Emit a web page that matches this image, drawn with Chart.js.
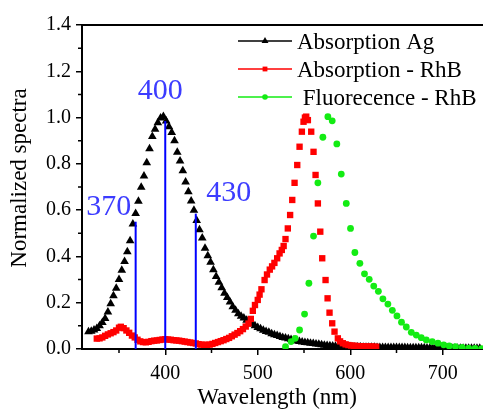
<!DOCTYPE html>
<html>
<head>
<meta charset="utf-8">
<script src="https://cdn.jsdelivr.net/npm/chart.js@4/dist/chart.umd.min.js"></script>
<style>
  html, body { margin: 0; padding: 0; background: #fff; overflow: hidden; width: 483px; height: 410px; }
  canvas { display: block; }
</style>
</head>
<body>
<canvas id="c" width="494" height="410"></canvas>
<script>
// ---------- DATA (wavelength nm, normalized value) ----------
const absAg = [
  [317,.075],[320,.077],[323,.082],[326,.089],[329,.100],[332,.115],[335,.132],[338,.160],[341,.195],[344,.230],
  [347,.263],[350,.300],[353,.340],[356,.378],[359,.420],[362,.468],[365,.540],[368,.585],[371,.638],[374,.699],
  [377,.748],[380,.805],[383,.865],[386,.918],[389,.950],[392,.978],[395,.998],[398,1.005],[401,.985],[404,.960],
  [407,.935],[410,.900],[413,.850],[416,.812],[419,.770],[422,.722],[425,.680],[428,.640],[431,.600],[434,.555],
  [437,.515],[440,.480],[443,.435],[446,.403],[449,.375],[452,.342],[455,.313],[458,.288],[461,.265],[464,.241],
  [467,.223],[470,.203],[473,.183],[476,.167],[479,.152],[482,.142],[485,.134],[488,.124],[491,.114],[494,.108],
  [497,.100],[500,.093],[503,.087],[506,.081],[509,.076],[512,.072],[515,.066],[518,.062],[521,.058],[524,.054],
  [527,.050],[530,.047],[533,.044],[536,.041],[539,.038],[542,.035],[545,.032],[548,.030],[551,.028],[554,.027],
  [557,.025],[560,.024],[563,.022],[566,.020],[569,.018],[572,.016],[575,.015],[578,.014],[581,.013],[584,.012],
  [587,.011],[590,.010],[593,.010],[596,.010],[599,.010],[602,.009],[605,.009],[608,.009],[611,.009],[614,.008],
  [617,.008],[620,.008],[623,.008],[626,.008],[629,.007],[632,.007],[635,.007],[638,.007],[641,.007],[644,.006],
  [647,.006],[650,.006],[653,.006],[656,.006],[659,.006],[662,.005],[665,.005],[668,.005],[671,.005],[674,.005],
  [677,.005],[680,.005],[683,.004],[686,.004],[689,.004],[692,.004],[695,.004],[698,.004],[701,.004],[704,.004],
  [707,.003],[710,.003],[713,.003],[716,.003],[719,.003],[722,.003],[725,.003],[728,.003],[731,.003],[734,.003],
  [737,.003],[740,.003]
];

const absRhB = [
  [326,.045],[329,.046],[332,.050],[335,.057],[338,.063],[341,.068],[344,.073],[347,.080],[350,.092],[352,.096],
  [355,.090],[358,.080],[361,.070],[364,.058],[367,.050],[370,.040],[373,.033],[376,.030],[379,.029],[382,.031],
  [385,.034],[388,.036],[391,.037],[394,.039],[397,.041],[400,.042],[403,.041],[406,.040],[409,.038],[412,.037],
  [415,.036],[418,.034],[421,.032],[424,.030],[427,.028],[430,.026],[433,.024],[436,.021],[439,.019],[442,.018],
  [445,.018],[448,.019],[451,.022],[454,.026],[457,.030],[460,.034],[463,.038],[466,.043],[469,.048],[472,.055],
  [475,.062],[478,.069],[481,.077],[484,.086],[487,.097],[490,.110],[492.5,.130],[494.7,.165],[497,.190],[500,.212],
  [502,.235],[504,.258],[507.4,.298],[510,.322],[513,.343],[515.5,.357],[518,.372],[521,.392],[523.6,.413],[526,.428],
  [528,.445],[530,.475],[532.5,.521],[535,.579],[537.3,.644],[539.8,.718],[542.7,.795],[545.2,.874],[547.7,.939],[549.5,.982],
  [551,1.000],[552.4,1.004],[554.2,.989],[557.8,.939],[560.3,.852],[562.5,.752],[565,.629],[567.6,.507],[569.7,.392],[573.3,.298],
  [575.5,.219],[577.6,.157],[580.5,.111],[583,.075],[586.6,.046],[589,.033],[592,.025],[595,.020],[598,.017],[601,.015],
  [604,.014],[607,.013],[610,.012],[613,.012],[616,.011],[619,.011],[622,.011],[625,.010],[628,.010]
];

const fluoRhB = [
  [530,.010],[536,.032],[540.5,.046],[545.2,.082],[550.6,.151],[555.3,.284],[560.3,.488],[565,.718],[570.4,.915],[575.8,1.004],
  [580.5,.986],[585.5,.886],[590.3,.756],[595.7,.629],[600.3,.521],[605,.417],[610.4,.370],[615.4,.325],[620.5,.301],[625.4,.272],
  [630.4,.249],[635.3,.217],[640.7,.194],[645.5,.167],[650.5,.143],[655.4,.116],[660.6,.095],[666,.072],[671.4,.060],[676.8,.049],
  [682.2,.039],[688.6,.032],[694.8,.025],[701,.018],[707,.013],[713.8,.010],[721,.007],[728,.004],[735,.003],[742,.001]
];

// Vertical marker lines (wavelength, top value, label)
const markWl = [368, 400, 433];
const markTop = [0.55, 0.985, 0.585];
const markLabels = ['370', '400', '430'];

const xTicks = [400, 500, 600, 700];
const xMinor = [350, 450, 550, 650];
const yTicks = [0, 0.2, 0.4, 0.6, 0.8, 1.0, 1.2, 1.4];
const yMinor = [0.1, 0.3, 0.5, 0.7, 0.9, 1.1, 1.3];

const seriesNames = ['Absorption Ag', 'Absorption - RhB', ' Fluorecence - RhB'];
const xTitle = 'Wavelength (nm)';
const yTitle = 'Normalized spectra';

// ---------- CHART ----------
const SERIF = '"Liberation Serif", "Times New Roman", serif';
const BLUE_TEXT = '#3c3cff';
const GREEN = '#13ec13';
const toXY = arr => arr.map(p => ({x: p[0], y: p[1]}));

const markerDatasets = markWl.map((w, i) => ({
  type: 'line',
  data: [{x: w, y: 0}, {x: w, y: markTop[i]}],
  borderColor: '#0000ff',
  borderWidth: 2,
  pointRadius: 0,
  showLine: true,
  clip: false
}));

const dsCommon = { type: 'line', showLine: false, pointBorderWidth: 0 };

const datasets = [
  ...markerDatasets,
  Object.assign({}, dsCommon, { label: seriesNames[2], data: toXY(fluoRhB), pointStyle: 'circle', pointRadius: 3.4,
    backgroundColor: GREEN, borderColor: GREEN }),
  Object.assign({}, dsCommon, { label: seriesNames[1], data: toXY(absRhB), pointStyle: 'rect', pointRadius: 4.5,
    backgroundColor: '#ff0000', borderColor: '#ff0000' }),
  Object.assign({}, dsCommon, { label: seriesNames[0], data: toXY(absAg), pointStyle: 'triangle', pointRadius: 5,
    backgroundColor: '#000000', borderColor: '#000000' })
];

const decor = {
  id: 'decor',
  afterDraw(chart) {
    const ctx = chart.ctx;
    const xs = chart.scales.x, ys = chart.scales.y;
    const a = chart.chartArea;
    ctx.save();
    // frame (top + right)
    ctx.strokeStyle = '#000';
    ctx.lineWidth = 2;
    ctx.beginPath();
    ctx.moveTo(a.left, a.top); ctx.lineTo(a.right, a.top); ctx.lineTo(a.right, a.bottom);
    ctx.stroke();
    // minor ticks
    ctx.lineWidth = 1.5;
    ctx.beginPath();
    xMinor.forEach(v => { const px = xs.getPixelForValue(v); ctx.moveTo(px, a.bottom); ctx.lineTo(px, a.bottom + 4); });
    yMinor.forEach(v => { const py = ys.getPixelForValue(v); ctx.moveTo(a.left, py); ctx.lineTo(a.left - 4, py); });
    ctx.stroke();

    // marker labels
    ctx.fillStyle = BLUE_TEXT;
    ctx.font = '30px ' + SERIF;
    ctx.textAlign = 'center';
    ctx.textBaseline = 'alphabetic';
    const offs = [[-27, -7], [-5, -22], [33, -13]];
    markWl.forEach((w, i) => {
      const px = xs.getPixelForValue(w), py = ys.getPixelForValue(markTop[i]);
      ctx.fillText(markLabels[i], px + offs[i][0], py + offs[i][1]);
    });

    // axis titles
    ctx.fillStyle = '#000';
    ctx.font = '23px ' + SERIF;
    ctx.textBaseline = 'middle';
    ctx.fillText(xTitle, 277, 398);
    ctx.save();
    ctx.translate(20, 178);
    ctx.rotate(-Math.PI / 2);
    ctx.fillText(yTitle, 0, 0);
    ctx.restore();

    // legend
    const rows = [
      { c: '#000', s: 'triangle', r: 4, y: 41 },
      { c: '#ff0000', s: 'rect', r: 3.4, y: 69 },
      { c: GREEN, s: 'circle', r: 2.8, y: 97 }
    ];
    ctx.font = '23px ' + SERIF;
    ctx.textAlign = 'left';
    rows.forEach((r, i) => {
      ctx.strokeStyle = r.c;
      ctx.lineWidth = 1.5;
      ctx.beginPath(); ctx.moveTo(238, r.y); ctx.lineTo(292, r.y); ctx.stroke();
      ctx.fillStyle = r.c;
      Chart.helpers.drawPoint(ctx, { pointStyle: r.s, radius: r.r, borderWidth: 0 }, 265, r.y);
      ctx.fillStyle = '#000';
      ctx.textBaseline = 'alphabetic';
      ctx.fillText(seriesNames[i], 297, r.y + 7.5);
    });
    ctx.restore();
  }
};

new Chart(document.getElementById('c'), {
  type: 'line',
  data: { datasets },
  options: {
    responsive: false,
    animation: false,
    devicePixelRatio: 1,
    layout: { padding: { top: 25, right: 5, left: 0, bottom: 0 } },
    plugins: { legend: { display: false }, tooltip: { enabled: false } },
    scales: {
      x: {
        type: 'linear', min: 310, max: 750,
        afterFit: s => { s.height = 61; },
        afterBuildTicks: s => { s.ticks = xTicks.map(v => ({ value: v })); },
        grid: { display: true, drawOnChartArea: false, drawTicks: true, tickLength: 6, color: '#000', lineWidth: 1.5 },
        border: { display: true, color: '#000', width: 2 },
        ticks: { color: '#000', font: { family: SERIF, size: 20 }, padding: 7, maxRotation: 0,
          callback: v => String(v) }
      },
      y: {
        type: 'linear', min: 0, max: 1.4,
        afterFit: s => { s.width = 82; },
        afterBuildTicks: s => { s.ticks = yTicks.map(v => ({ value: v })); },
        grid: { display: true, drawOnChartArea: false, drawTicks: true, tickLength: 6, color: '#000', lineWidth: 1.5 },
        border: { display: true, color: '#000', width: 2 },
        ticks: { color: '#000', font: { family: SERIF, size: 20 }, padding: 5,
          callback: v => Number(v).toFixed(1) }
      }
    }
  },
  plugins: [decor]
});
</script>
</body>
</html>
